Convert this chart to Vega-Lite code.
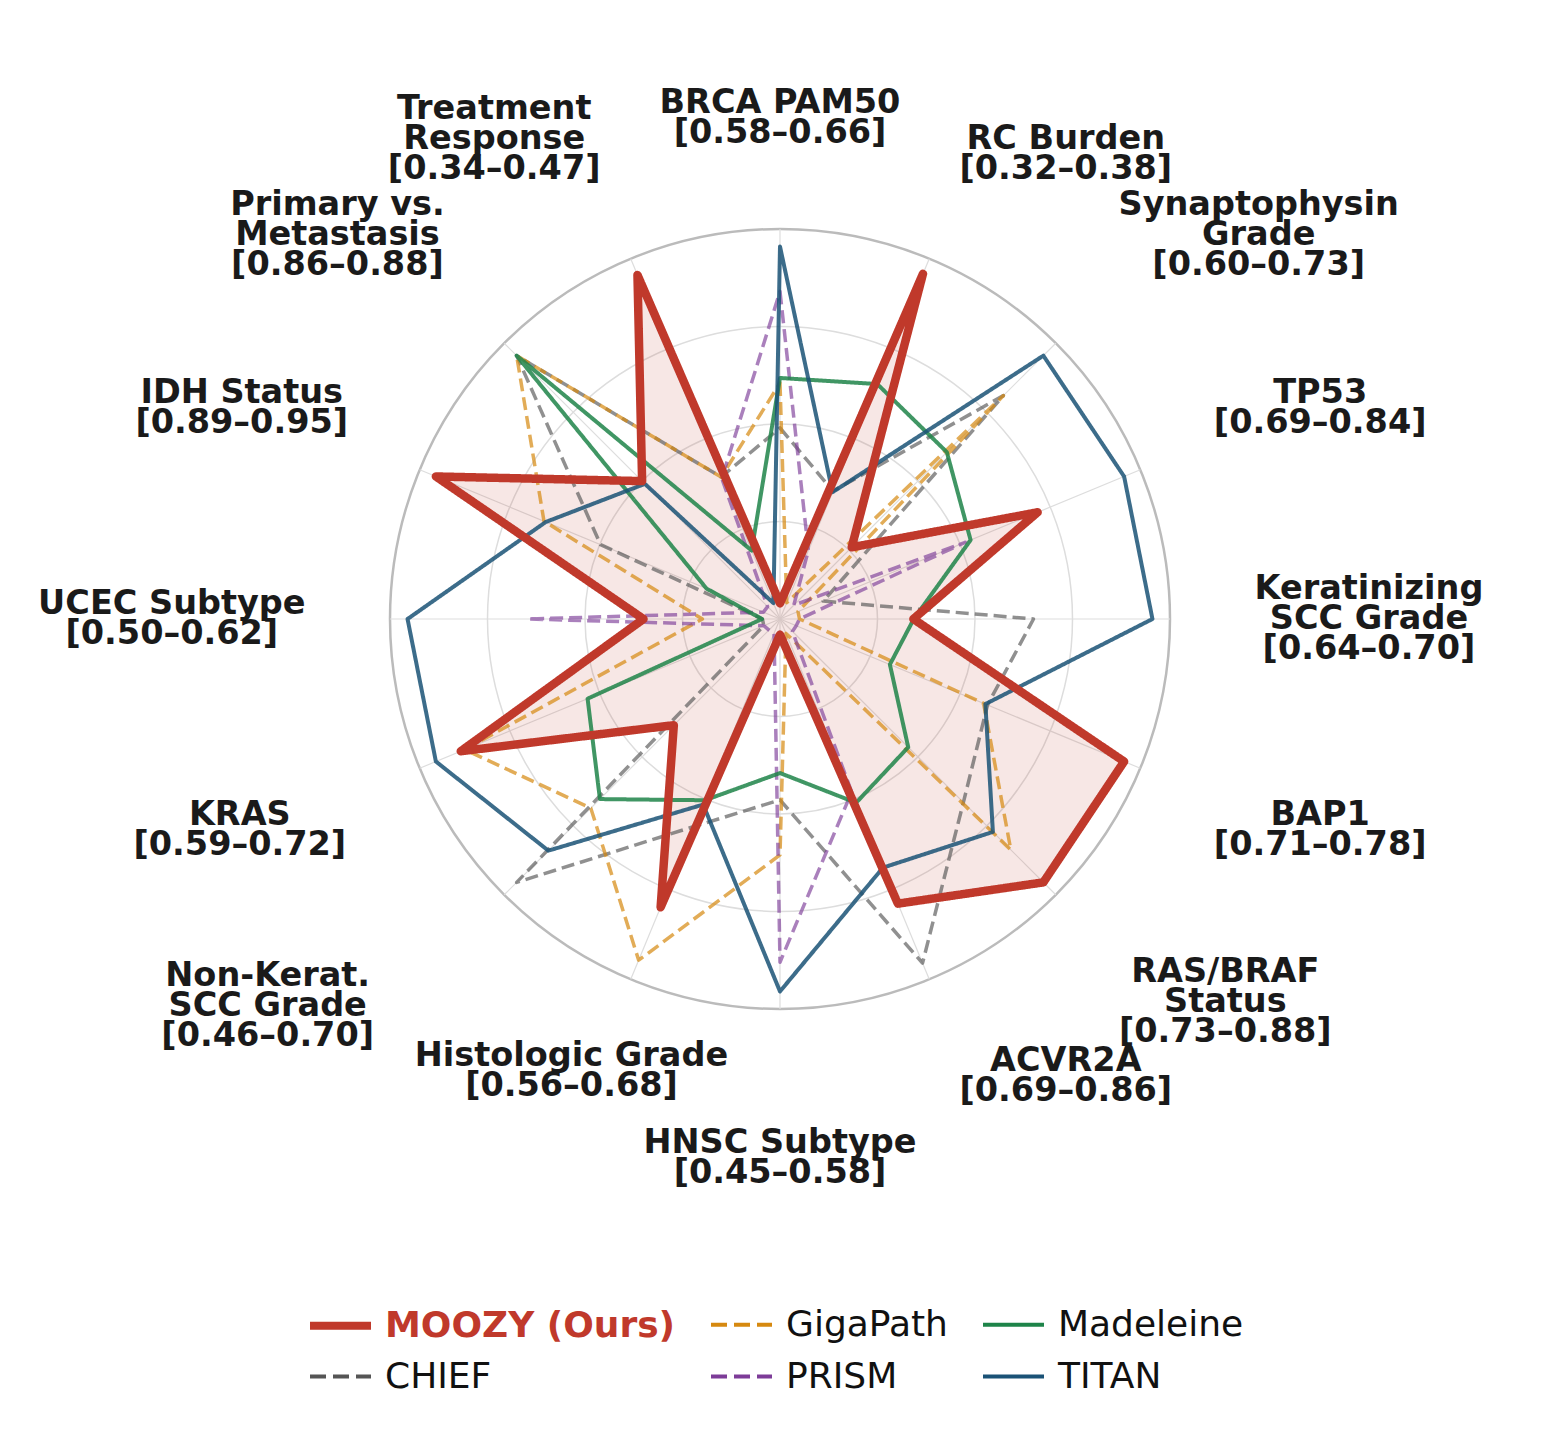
{
  "$schema": "https://vega.github.io/schema/vega-lite/v6.json",
  "width": 1560,
  "height": 1440,
  "padding": 0,
  "autosize": {"type": "none"},
  "background": "white",
  "config": {
    "view": {"stroke": null},
    "font": "DejaVu Sans",
    "legend": {
      "orient": "none",
      "legendX": 306,
      "legendY": 1291,
      "columns": 3,
      "title": null,
      "symbolType": "stroke",
      "symbolSize": 3721,
      "symbolOpacity": 1,
      "labelFont": "DejaVu Sans",
      "labelFontSize": 36,
      "labelOffset": 10,
      "labelLimit": 600,
      "columnPadding": 27,
      "rowPadding": -12,
      "padding": 0
    }
  },
  "resolve": {
    "scale": {"color": "independent", "strokeDash": "independent", "strokeWidth": "independent", "opacity": "independent"}
  },
  "datasets": {
    "rings": [{"r": 0.25}, {"r": 0.5}, {"r": 0.75}, {"r": 1.0}],
    "tasks": [
      {"task": "BRCA PAM50", "k": 0, "label": "BRCA PAM50\n[0.58–0.66]"},
      {"task": "RC Burden", "k": 1, "label": "RC Burden\n[0.32–0.38]"},
      {"task": "Synaptophysin Grade", "k": 2, "label": "Synaptophysin\nGrade\n[0.60–0.73]"},
      {"task": "TP53", "k": 3, "label": "TP53\n[0.69–0.84]"},
      {"task": "Keratinizing SCC Grade", "k": 4, "label": "Keratinizing\nSCC Grade\n[0.64–0.70]"},
      {"task": "BAP1", "k": 5, "label": "BAP1\n[0.71–0.78]"},
      {"task": "RAS/BRAF Status", "k": 6, "label": "RAS/BRAF\nStatus\n[0.73–0.88]"},
      {"task": "ACVR2A", "k": 7, "label": "ACVR2A\n[0.69–0.86]"},
      {"task": "HNSC Subtype", "k": 8, "label": "HNSC Subtype\n[0.45–0.58]"},
      {"task": "Histologic Grade", "k": 9, "label": "Histologic Grade\n[0.56–0.68]"},
      {"task": "Non-Kerat. SCC Grade", "k": 10, "label": "Non-Kerat.\nSCC Grade\n[0.46–0.70]"},
      {"task": "KRAS", "k": 11, "label": "KRAS\n[0.59–0.72]"},
      {"task": "UCEC Subtype", "k": 12, "label": "UCEC Subtype\n[0.50–0.62]"},
      {"task": "IDH Status", "k": 13, "label": "IDH Status\n[0.89–0.95]"},
      {"task": "Primary vs. Metastasis", "k": 14, "label": "Primary vs.\nMetastasis\n[0.86–0.88]"},
      {"task": "Treatment Response", "k": 15, "label": "Treatment\nResponse\n[0.34–0.47]"}
    ],
    "scores": [
      {"model": "CHIEF", "task": "BRCA PAM50", "score": 0.49},
      {"model": "CHIEF", "task": "RC Burden", "score": 0.355},
      {"model": "CHIEF", "task": "Synaptophysin Grade", "score": 0.81},
      {"model": "CHIEF", "task": "TP53", "score": 0.12},
      {"model": "CHIEF", "task": "Keratinizing SCC Grade", "score": 0.65},
      {"model": "CHIEF", "task": "BAP1", "score": 0.576},
      {"model": "CHIEF", "task": "RAS/BRAF Status", "score": 0.665},
      {"model": "CHIEF", "task": "ACVR2A", "score": 0.955},
      {"model": "CHIEF", "task": "HNSC Subtype", "score": 0.464},
      {"model": "CHIEF", "task": "Histologic Grade", "score": 0.576},
      {"model": "CHIEF", "task": "Non-Kerat. SCC Grade", "score": 0.955},
      {"model": "CHIEF", "task": "KRAS", "score": 0.045},
      {"model": "CHIEF", "task": "UCEC Subtype", "score": 0.045},
      {"model": "CHIEF", "task": "IDH Status", "score": 0.498},
      {"model": "CHIEF", "task": "Primary vs. Metastasis", "score": 0.955},
      {"model": "CHIEF", "task": "Treatment Response", "score": 0.394},

      {"model": "GigaPath", "task": "BRCA PAM50", "score": 0.605},
      {"model": "GigaPath", "task": "RC Burden", "score": 0.045},
      {"model": "GigaPath", "task": "Synaptophysin Grade", "score": 0.81},
      {"model": "GigaPath", "task": "TP53", "score": 0.05},
      {"model": "GigaPath", "task": "Keratinizing SCC Grade", "score": 0.05},
      {"model": "GigaPath", "task": "BAP1", "score": 0.565},
      {"model": "GigaPath", "task": "RAS/BRAF Status", "score": 0.837},
      {"model": "GigaPath", "task": "ACVR2A", "score": 0.04},
      {"model": "GigaPath", "task": "HNSC Subtype", "score": 0.605},
      {"model": "GigaPath", "task": "Histologic Grade", "score": 0.947},
      {"model": "GigaPath", "task": "Non-Kerat. SCC Grade", "score": 0.686},
      {"model": "GigaPath", "task": "KRAS", "score": 0.875},
      {"model": "GigaPath", "task": "UCEC Subtype", "score": 0.199},
      {"model": "GigaPath", "task": "IDH Status", "score": 0.655},
      {"model": "GigaPath", "task": "Primary vs. Metastasis", "score": 0.955},
      {"model": "GigaPath", "task": "Treatment Response", "score": 0.394},

      {"model": "PRISM", "task": "BRCA PAM50", "score": 0.84},
      {"model": "PRISM", "task": "RC Burden", "score": 0.19},
      {"model": "PRISM", "task": "Synaptophysin Grade", "score": 0.05},
      {"model": "PRISM", "task": "TP53", "score": 0.514},
      {"model": "PRISM", "task": "Keratinizing SCC Grade", "score": 0.05},
      {"model": "PRISM", "task": "BAP1", "score": 0.045},
      {"model": "PRISM", "task": "RAS/BRAF Status", "score": 0.045},
      {"model": "PRISM", "task": "ACVR2A", "score": 0.48},
      {"model": "PRISM", "task": "HNSC Subtype", "score": 0.88},
      {"model": "PRISM", "task": "Histologic Grade", "score": 0.04},
      {"model": "PRISM", "task": "Non-Kerat. SCC Grade", "score": 0.04},
      {"model": "PRISM", "task": "KRAS", "score": 0.045},
      {"model": "PRISM", "task": "UCEC Subtype", "score": 0.647},
      {"model": "PRISM", "task": "IDH Status", "score": 0.046},
      {"model": "PRISM", "task": "Primary vs. Metastasis", "score": 0.045},
      {"model": "PRISM", "task": "Treatment Response", "score": 0.39},

      {"model": "Madeleine", "task": "BRCA PAM50", "score": 0.618},
      {"model": "Madeleine", "task": "RC Burden", "score": 0.652},
      {"model": "Madeleine", "task": "Synaptophysin Grade", "score": 0.605},
      {"model": "Madeleine", "task": "TP53", "score": 0.529},
      {"model": "Madeleine", "task": "Keratinizing SCC Grade", "score": 0.343},
      {"model": "Madeleine", "task": "BAP1", "score": 0.305},
      {"model": "Madeleine", "task": "RAS/BRAF Status", "score": 0.465},
      {"model": "Madeleine", "task": "ACVR2A", "score": 0.51},
      {"model": "Madeleine", "task": "HNSC Subtype", "score": 0.395},
      {"model": "Madeleine", "task": "Histologic Grade", "score": 0.503},
      {"model": "Madeleine", "task": "Non-Kerat. SCC Grade", "score": 0.653},
      {"model": "Madeleine", "task": "KRAS", "score": 0.534},
      {"model": "Madeleine", "task": "UCEC Subtype", "score": 0.046},
      {"model": "Madeleine", "task": "IDH Status", "score": 0.204},
      {"model": "Madeleine", "task": "Primary vs. Metastasis", "score": 0.955},
      {"model": "Madeleine", "task": "Treatment Response", "score": 0.19},

      {"model": "TITAN", "task": "BRCA PAM50", "score": 0.955},
      {"model": "TITAN", "task": "RC Burden", "score": 0.352},
      {"model": "TITAN", "task": "Synaptophysin Grade", "score": 0.955},
      {"model": "TITAN", "task": "TP53", "score": 0.955},
      {"model": "TITAN", "task": "Keratinizing SCC Grade", "score": 0.955},
      {"model": "TITAN", "task": "BAP1", "score": 0.57},
      {"model": "TITAN", "task": "RAS/BRAF Status", "score": 0.772},
      {"model": "TITAN", "task": "ACVR2A", "score": 0.69},
      {"model": "TITAN", "task": "HNSC Subtype", "score": 0.955},
      {"model": "TITAN", "task": "Histologic Grade", "score": 0.515},
      {"model": "TITAN", "task": "Non-Kerat. SCC Grade", "score": 0.84},
      {"model": "TITAN", "task": "KRAS", "score": 0.955},
      {"model": "TITAN", "task": "UCEC Subtype", "score": 0.955},
      {"model": "TITAN", "task": "IDH Status", "score": 0.65},
      {"model": "TITAN", "task": "Primary vs. Metastasis", "score": 0.49},
      {"model": "TITAN", "task": "Treatment Response", "score": 0.044},

      {"model": "MOOZY (Ours)", "task": "BRCA PAM50", "score": 0.04},
      {"model": "MOOZY (Ours)", "task": "RC Burden", "score": 0.958},
      {"model": "MOOZY (Ours)", "task": "Synaptophysin Grade", "score": 0.26},
      {"model": "MOOZY (Ours)", "task": "TP53", "score": 0.715},
      {"model": "MOOZY (Ours)", "task": "Keratinizing SCC Grade", "score": 0.342},
      {"model": "MOOZY (Ours)", "task": "BAP1", "score": 0.955},
      {"model": "MOOZY (Ours)", "task": "RAS/BRAF Status", "score": 0.955},
      {"model": "MOOZY (Ours)", "task": "ACVR2A", "score": 0.79},
      {"model": "MOOZY (Ours)", "task": "HNSC Subtype", "score": 0.04},
      {"model": "MOOZY (Ours)", "task": "Histologic Grade", "score": 0.8},
      {"model": "MOOZY (Ours)", "task": "Non-Kerat. SCC Grade", "score": 0.385},
      {"model": "MOOZY (Ours)", "task": "KRAS", "score": 0.886},
      {"model": "MOOZY (Ours)", "task": "UCEC Subtype", "score": 0.35},
      {"model": "MOOZY (Ours)", "task": "IDH Status", "score": 0.955},
      {"model": "MOOZY (Ours)", "task": "Primary vs. Metastasis", "score": 0.5},
      {"model": "MOOZY (Ours)", "task": "Treatment Response", "score": 0.955}
    ]
  },
  "layer": [
    {
      "description": "concentric grid rings, drawn as hollow circles centred on the origin",
      "data": {"name": "rings"},
      "mark": {"type": "point", "shape": "circle", "filled": false, "opacity": 1},
      "encoding": {
        "x": {"datum": 0, "type": "quantitative", "scale": {"domain": [-2, 2], "nice": false, "zero": false}, "axis": null},
        "y": {"datum": 0, "type": "quantitative", "scale": {"domain": [-2.1051282, 1.5871795], "nice": false, "zero": false}, "axis": null},
        "size": {"field": "r", "type": "quantitative", "scale": {"type": "pow", "exponent": 2, "domain": [0, 1], "range": [0, 608400], "zero": true, "nice": false}, "legend": null},
        "stroke": {"condition": {"test": "datum.r >= 1", "value": "#bbbbbb"}, "value": "#dddddd"},
        "strokeWidth": {"condition": {"test": "datum.r >= 1", "value": 2.5}, "value": 1.5}
      }
    },
    {
      "description": "one spoke per task",
      "data": {"name": "tasks"},
      "transform": [
        {"calculate": "datum.k * PI / 8", "as": "a"},
        {"calculate": "sin(datum.a)", "as": "sx"},
        {"calculate": "cos(datum.a)", "as": "sy"}
      ],
      "mark": {"type": "rule", "color": "#dddddd", "strokeWidth": 1.2},
      "encoding": {
        "x": {"field": "sx", "type": "quantitative", "scale": {"domain": [-2, 2], "nice": false, "zero": false}, "axis": null},
        "y": {"field": "sy", "type": "quantitative", "scale": {"domain": [-2.1051282, 1.5871795], "nice": false, "zero": false}, "axis": null},
        "x2": {"datum": 0},
        "y2": {"datum": 0}
      }
    },
    {
      "description": "shaded area under the MOOZY profile",
      "data": {"name": "scores"},
      "transform": [
        {"filter": "datum.model === 'MOOZY (Ours)'"},
        {"lookup": "task", "from": {"data": {"name": "tasks"}, "key": "task", "fields": ["k"]}},
        {"calculate": "datum.k * PI / 8", "as": "a"},
        {"calculate": "datum.score * sin(datum.a)", "as": "px"},
        {"calculate": "datum.score * cos(datum.a)", "as": "py"}
      ],
      "mark": {"type": "line", "interpolate": "linear-closed", "fill": "#c0392b", "fillOpacity": 0.12, "stroke": "#c0392b", "strokeOpacity": 0},
      "encoding": {
        "x": {"field": "px", "type": "quantitative", "scale": {"domain": [-2, 2], "nice": false, "zero": false}, "axis": null},
        "y": {"field": "py", "type": "quantitative", "scale": {"domain": [-2.1051282, 1.5871795], "nice": false, "zero": false}, "axis": null},
        "order": {"field": "k", "type": "quantitative"}
      }
    },
    {
      "description": "model profiles, semi-transparent except MOOZY",
      "data": {"name": "scores"},
      "transform": [
        {"lookup": "task", "from": {"data": {"name": "tasks"}, "key": "task", "fields": ["k"]}},
        {"calculate": "datum.k * PI / 8", "as": "a"},
        {"calculate": "datum.score * sin(datum.a)", "as": "px"},
        {"calculate": "datum.score * cos(datum.a)", "as": "py"}
      ],
      "mark": {"type": "line", "interpolate": "linear-closed", "strokeJoin": "round"},
      "encoding": {
        "x": {"field": "px", "type": "quantitative", "scale": {"domain": [-2, 2], "nice": false, "zero": false}, "axis": null},
        "y": {"field": "py", "type": "quantitative", "scale": {"domain": [-2.1051282, 1.5871795], "nice": false, "zero": false}, "axis": null},
        "order": {"field": "k", "type": "quantitative"},
        "color": {
          "field": "model", "type": "nominal",
          "scale": {
            "domain": ["MOOZY (Ours)", "CHIEF", "GigaPath", "PRISM", "Madeleine", "TITAN"],
            "range": ["#c0392b", "#555555", "#d68910", "#7d3c98", "#1e8449", "#1a5276"]
          },
          "legend": null
        },
        "strokeDash": {
          "field": "model", "type": "nominal",
          "scale": {
            "domain": ["MOOZY (Ours)", "CHIEF", "GigaPath", "PRISM", "Madeleine", "TITAN"],
            "range": [[1, 0], [13, 6], [13, 6], [13, 6], [1, 0], [1, 0]]
          },
          "legend": null
        },
        "strokeWidth": {
          "field": "model", "type": "nominal",
          "scale": {
            "type": "ordinal",
            "domain": ["MOOZY (Ours)", "CHIEF", "GigaPath", "PRISM", "Madeleine", "TITAN"],
            "range": [8.5, 3.5, 3.5, 3.5, 4, 4]
          },
          "legend": null
        },
        "opacity": {
          "field": "model", "type": "nominal",
          "scale": {
            "type": "ordinal",
            "domain": ["MOOZY (Ours)", "CHIEF", "GigaPath", "PRISM", "Madeleine", "TITAN"],
            "range": [1, 0.65, 0.7, 0.65, 0.85, 0.85]
          },
          "legend": null
        }
      }
    },
    {
      "description": "legend key for the models (draws no profile of its own)",
      "data": {"name": "scores"},
      "transform": [{"filter": "datum.score < 0"}],
      "mark": {"type": "line"},
      "encoding": {
        "x": {"field": "score", "type": "quantitative", "scale": {"domain": [-2, 2], "nice": false, "zero": false}, "axis": null},
        "y": {"field": "score", "type": "quantitative", "scale": {"domain": [-2.1051282, 1.5871795], "nice": false, "zero": false}, "axis": null},
        "color": {
          "field": "model", "type": "nominal",
          "scale": {
            "domain": ["MOOZY (Ours)", "CHIEF", "GigaPath", "PRISM", "Madeleine", "TITAN"],
            "range": ["#c0392b", "#555555", "#d68910", "#7d3c98", "#1e8449", "#1a5276"]
          },
          "legend": {
            "labelFontWeight": {"expr": "datum.value === 'MOOZY (Ours)' ? 'bold' : 'normal'"},
            "labelColor": {"expr": "datum.value === 'MOOZY (Ours)' ? '#c0392b' : '#111111'"}
          }
        },
        "strokeDash": {
          "field": "model", "type": "nominal",
          "scale": {
            "domain": ["MOOZY (Ours)", "CHIEF", "GigaPath", "PRISM", "Madeleine", "TITAN"],
            "range": [[1, 0], [16, 7], [16, 7], [16, 7], [1, 0], [1, 0]]
          }
        },
        "strokeWidth": {
          "field": "model", "type": "nominal",
          "scale": {
            "type": "ordinal",
            "domain": ["MOOZY (Ours)", "CHIEF", "GigaPath", "PRISM", "Madeleine", "TITAN"],
            "range": [8, 4, 4, 4, 4, 4]
          }
        }
      }
    },
    {
      "description": "task names with score ranges, placed outside the outer ring",
      "data": {"name": "tasks"},
      "transform": [
        {"calculate": "datum.k * PI / 8", "as": "a"},
        {"calculate": "sin(datum.a)", "as": "s"},
        {"calculate": "cos(datum.a)", "as": "c"},
        {"calculate": "split(datum.label, '\\n')", "as": "lines"},
        {"calculate": "datum.lines[0]", "as": "l0"},
        {"calculate": "length(datum.lines) > 1 ? datum.lines[1] : ''", "as": "l1"},
        {"calculate": "length(datum.lines) > 2 ? datum.lines[2] : ''", "as": "l2"},
        {"calculate": "0.76*length(replace(datum.l0, regexp('[^A-Z]','g'), '')) + 0.62*length(replace(datum.l0, regexp('[^a-z]','g'), '')) + 0.696*length(replace(datum.l0, regexp('[^0-9]','g'), '')) + 0.43*length(replace(datum.l0, regexp('[A-Za-z0-9]','g'), ''))", "as": "w0"},
        {"calculate": "0.76*length(replace(datum.l1, regexp('[^A-Z]','g'), '')) + 0.62*length(replace(datum.l1, regexp('[^a-z]','g'), '')) + 0.696*length(replace(datum.l1, regexp('[^0-9]','g'), '')) + 0.43*length(replace(datum.l1, regexp('[A-Za-z0-9]','g'), ''))", "as": "w1"},
        {"calculate": "0.76*length(replace(datum.l2, regexp('[^A-Z]','g'), '')) + 0.62*length(replace(datum.l2, regexp('[^a-z]','g'), '')) + 0.696*length(replace(datum.l2, regexp('[^0-9]','g'), '')) + 0.43*length(replace(datum.l2, regexp('[A-Za-z0-9]','g'), ''))", "as": "w2"},
        {"calculate": "max(datum.w0, datum.w1, datum.w2) * 33.5", "as": "wpx"},
        {"calculate": "(length(datum.lines) - 1) * 30 + 32", "as": "hpx"},
        {"calculate": "(length(datum.lines) - 1) * 15", "as": "lift"},
        {"calculate": "datum.s > 0.3 ? 1 : (datum.s < -0.3 ? -1 : 0)", "as": "sh"},
        {"calculate": "datum.c > 0.3 ? 1 : (datum.c < -0.3 ? -1 : 0)", "as": "sv"},
        {"calculate": "datum.task === 'Histologic Grade' ? 139 : datum.task === 'Non-Kerat. SCC Grade' ? -74 : datum.task === 'Keratinizing SCC Grade' ? -8 : datum.task === 'Synaptophysin Grade' ? 9 : datum.task === 'RAS/BRAF Status' ? 7 : datum.task === 'UCEC Subtype' ? -5 : datum.task === 'IDH Status' ? 6 : 0", "as": "nx"},
        {"calculate": "datum.task === 'HNSC Subtype' ? 38 : datum.task === 'Histologic Grade' ? -13 : datum.task === 'Non-Kerat. SCC Grade' ? 9 : datum.task === 'ACVR2A' ? -8 : datum.task === 'RAS/BRAF Status' ? 5 : (datum.task === 'Synaptophysin Grade' || datum.task === 'Primary vs. Metastasis') ? -6 : 0", "as": "ny"},
        {"calculate": "(470 * datum.s + datum.sh * datum.wpx / 2 + datum.nx) / 390", "as": "lx"},
        {"calculate": "(470 * datum.c + datum.sv * datum.hpx / 2 - datum.ny + datum.lift) / 390", "as": "ly"}
      ],
      "mark": {
        "type": "text",
        "align": "center",
        "baseline": "middle",
        "lineBreak": "\n",
        "lineHeight": 30,
        "font": "DejaVu Sans",
        "fontSize": 33.5,
        "fontWeight": "bold",
        "color": "#1a1a1a"
      },
      "encoding": {
        "x": {"field": "lx", "type": "quantitative", "scale": {"domain": [-2, 2], "nice": false, "zero": false}, "axis": null},
        "y": {"field": "ly", "type": "quantitative", "scale": {"domain": [-2.1051282, 1.5871795], "nice": false, "zero": false}, "axis": null},
        "text": {"field": "label", "type": "nominal"}
      }
    }
  ]
}
